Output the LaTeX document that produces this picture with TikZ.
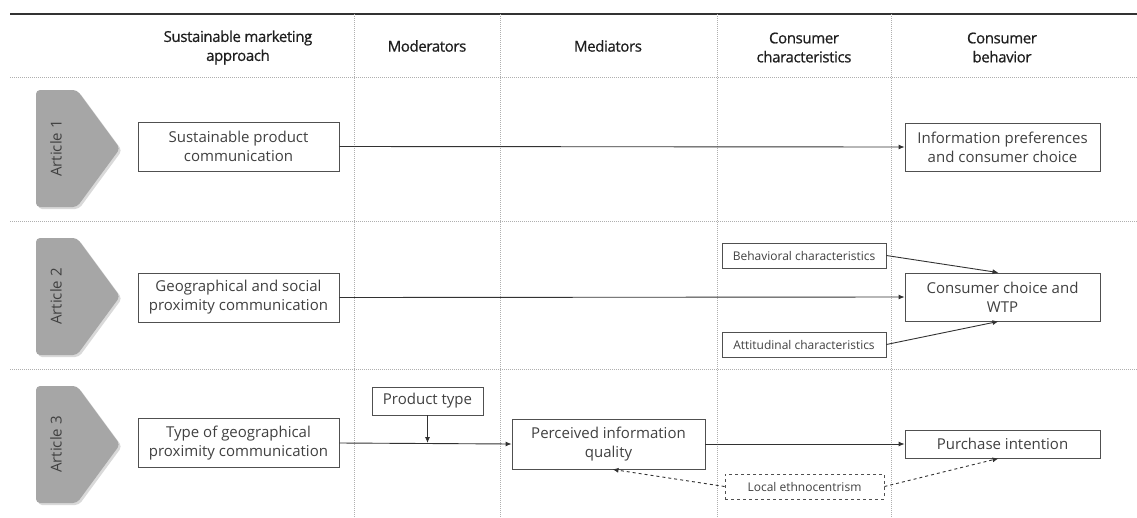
\documentclass[tikz,border=0pt]{standalone}
\usepackage{fontspec}
\setmainfont{Open Sans}
\newfontfamily\headfont[FakeBold=0.7, LetterSpace=-2.5]{Open Sans}
\usetikzlibrary{arrows.meta}
\definecolor{txtgray}{RGB}{64,64,64}
\definecolor{headgray}{RGB}{30,30,30}
\definecolor{boxgray}{RGB}{80,80,80}
\definecolor{linegray}{RGB}{50,50,50}
\definecolor{sepgray}{RGB}{175,175,175}
\definecolor{tabgray}{RGB}{166,166,166}
\begin{document}
\begin{tikzpicture}[x=1pt, y=-1pt,
    box/.style={draw=boxgray, line width=0.8pt, text=txtgray, align=center, inner sep=0pt, font=\fontsize{15}{19}\selectfont},
    smallbox/.style={box, font=\fontsize{12}{14}\selectfont},
    head/.style={text=headgray, align=center, font=\headfont\fontsize{15}{19}\selectfont},
    tabtext/.style={text=txtgray, font=\fontsize{15}{17}\selectfont},
    arr/.style={-{Latex[length=6pt, width=5pt]}, line width=0.9pt, draw=linegray},
    sep/.style={sepgray, line width=0.8pt, dash pattern=on 1pt off 1pt}]
    \useasboundingbox (0,0) rectangle (1137,517);

    % Draw grid lines
    \draw[line width=2pt, linegray] (10,14) -- (1137,14);
    \foreach \y in {77,221,369} \draw[sep] (10,\y) -- (1137,\y);
    \foreach \x in {354,500,717,891} \draw[sep] (\x,14) -- (\x,517);

    % Draw column headers
    \node[head] (hsma) at (238,47.5) {Sustainable marketing\\approach};
    \node[head] (hmod) at (427,46) {Moderators};
    \node[head] (hmed) at (608,46) {Mediators};
    \node[head] (hchar) at (804,47.5) {Consumer\\characteristics};
    \node[head] (hbeh) at (1002,47.5) {Consumer\\behavior};

    % Draw article tabs
    \foreach \t/\n in {90/1,238/2,386/3} {
        \fill[gray!30, rounded corners=4pt] (38,\t+2) -- (79,\t+2) -- (122,\t+60.5) -- (79,\t+119) -- (38,\t+119) -- cycle;
        \fill[tabgray, rounded corners=4pt] (36,\t) -- (77,\t) -- (120,\t+58.5) -- (77,\t+117) -- (36,\t+117) -- cycle;
        \node[tabtext, rotate=90] (art\n) at (56,\t+58.5) {Article \n};
    }

    % Article 1 boxes
    \node[box, minimum width=201pt, minimum height=49pt] (spc) at (238.5,146.5) {Sustainable product\\communication};
    \node[box, minimum width=195pt, minimum height=48pt] (ipc) at (1002.5,147) {Information preferences\\and consumer choice};

    % Article 2 boxes
    \node[box, minimum width=201pt, minimum height=49pt] (gsp) at (238.5,297.5) {Geographical and social\\proximity communication};
    \node[smallbox, minimum width=164pt, minimum height=25pt] (beh) at (804,255.5) {Behavioral characteristics};
    \node[smallbox, minimum width=164pt, minimum height=25pt] (att) at (804,344.5) {Attitudinal characteristics};
    \node[box, minimum width=195pt, minimum height=48pt] (wtp) at (1002.5,297) {Consumer choice and\\WTP};

    % Article 3 boxes
    \node[box, minimum width=201pt, minimum height=49pt] (tgp) at (238.5,443) {Type of geographical\\proximity communication};
    \node[box, minimum width=111pt, minimum height=28pt] (prod) at (427.5,401) {Product type};
    \node[box, minimum width=193pt, minimum height=50pt] (piq) at (608.5,444) {Perceived information\\quality};
    \node[box, minimum width=195pt, minimum height=28pt] (pint) at (1002.5,444) {Purchase intention};
    \node[smallbox, dashed, minimum width=159pt, minimum height=25pt] (eth) at (804.5,486.5) {Local ethnocentrism};
    \coordinate (mod) at (prod.south |- tgp.east);

    % Draw all arrows
    \draw[arr] (spc.east) -- (ipc.west);
    \draw[arr] (gsp.east) -- (wtp.west);
    \draw[arr] (beh.east) -- ([xshift=-4pt]wtp.north);
    \draw[arr] (att.east) -- ([xshift=-4pt]wtp.south);
    \draw[arr] (tgp.east) -- (piq.west);
    \draw[arr] (prod.south) -- (mod);
    \draw[arr] (piq.east) -- (pint.west);
    \draw[arr, dashed] (eth.west) -- ([xshift=4pt]piq.south);
    \draw[arr, dashed] (eth.east) -- ([xshift=-4pt]pint.south);
\end{tikzpicture}
\end{document}
